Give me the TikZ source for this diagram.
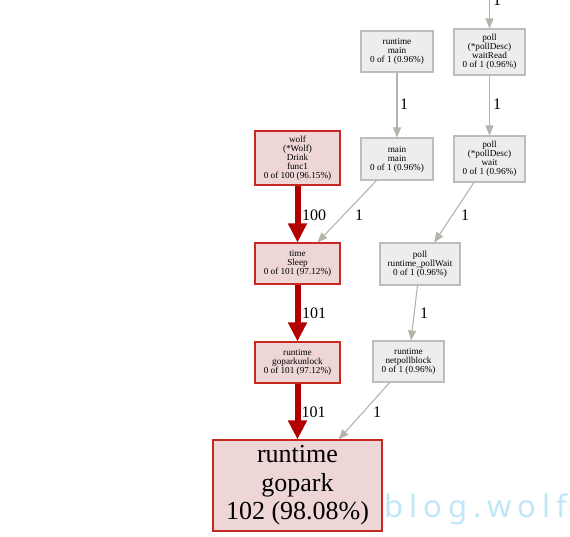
\documentclass[tikz,border=0pt]{standalone}
\usepackage{fontspec}
\setmainfont{Liberation Serif}
\newfontfamily\wmfont[LetterSpace=19]{Noto Sans}
\usetikzlibrary{arrows.meta}
\definecolor{rborder}{HTML}{C82822}
\definecolor{rfill}{HTML}{EDD6D5}
\definecolor{gborder}{HTML}{BDBDBD}
\definecolor{gfill}{HTML}{EDEDED}
\definecolor{redge}{HTML}{B20000}
\definecolor{gedge}{HTML}{B4B4AC}
\definecolor{wmcol}{RGB}{192,231,248}
\tikzset{
  base/.style={rectangle, inner sep=0pt, align=center, line width=1.1pt,
    font=\fontsize{9.2}{9}\selectfont},
  rnode/.style={base, draw=rborder, fill=rfill},
  gnode/.style={base, draw=gborder, fill=gfill},
  redarrow/.style={draw=redge, line width=6pt,
    -{Triangle[length=19pt,width=18pt]}},
  grayarrow/.style={draw=gedge, line width=1.1pt,
    -{Triangle[length=10pt,width=8pt]}},
  elabel/.style={font=\fontsize{16}{16}\selectfont, inner sep=0pt}
}
\begin{document}
\begin{tikzpicture}[x=1pt,y=-1pt]
\useasboundingbox (0,0) rectangle (570,536);
\clip (0,0) rectangle (570,536);
% nodes
\node[gnode, minimum width=72pt, minimum height=41pt] (rtmain) at (397,51.5) {runtime\\main\\0 of 1 (0.96\%)};
\node[gnode, minimum width=71pt, minimum height=46pt] (waitread) at (489.5,52) {poll\\(*pollDesc)\\waitRead\\0 of 1 (0.96\%)};
\node[gnode, minimum width=72pt, minimum height=42pt] (mainmain) at (397,159) {main\\main\\0 of 1 (0.96\%)};
\node[gnode, minimum width=71pt, minimum height=46pt] (pollwait) at (489.5,159) {poll\\(*pollDesc)\\wait\\0 of 1 (0.96\%)};
\node[rnode, minimum width=85pt, minimum height=54pt] (drink) at (297.5,158) {wolf\\(*Wolf)\\Drink\\func1\\0 of 100 (96.15\%)};
\node[rnode, minimum width=85pt, minimum height=41pt] (sleep) at (297.5,263.5) {time\\Sleep\\0 of 101 (97.12\%)};
\node[gnode, minimum width=80pt, minimum height=42pt] (pwait) at (420,264) {poll\\runtime\_pollWait\\0 of 1 (0.96\%)};
\node[rnode, minimum width=85pt, minimum height=41pt] (gpu) at (297.5,362.5) {runtime\\goparkunlock\\0 of 101 (97.12\%)};
\node[gnode, minimum width=71pt, minimum height=41pt] (npb) at (408.5,361.5) {runtime\\netpollblock\\0 of 1 (0.96\%)};
\node[rnode, minimum width=169pt, minimum height=91pt, font=\fontsize{26}{28.5}\selectfont] (gopark) at (297.5,485.5) {runtime\\gopark\\102 (98.08\%)};
\coordinate (topin) at (489.5,-12);
% watermark
\node[anchor=base west, inner sep=0pt, text=wmcol, font=\wmfont\fontsize{31}{31}\selectfont] (wm) at (384.5,517) {blog.wolf};
% edges
\draw[grayarrow] (topin) -- (waitread);
\draw[grayarrow] (rtmain) -- (mainmain);
\draw[grayarrow] (waitread) -- (pollwait);
\draw[grayarrow] (mainmain) -- (sleep);
\draw[grayarrow] (pollwait) -- (pwait);
\draw[grayarrow] (pwait) -- (npb);
\draw[grayarrow] (npb) -- (gopark);
\draw[redarrow] (drink) -- (sleep);
\draw[redarrow] (sleep) -- (gpu);
\draw[redarrow] (gpu) -- (gopark);
% edge labels
\node[elabel] (l0) at (497,0) {1};
\node[elabel] (l1) at (404,104) {1};
\node[elabel] (l2) at (497,104) {1};
\node[elabel] (l3) at (314,215) {100};
\node[elabel] (l4) at (359,215) {1};
\node[elabel] (l5) at (465,215) {1};
\node[elabel] (l6) at (314,313) {101};
\node[elabel] (l7) at (424,313) {1};
\node[elabel] (l8) at (313.5,412) {101};
\node[elabel] (l9) at (377,412) {1};
\end{tikzpicture}
\end{document}
